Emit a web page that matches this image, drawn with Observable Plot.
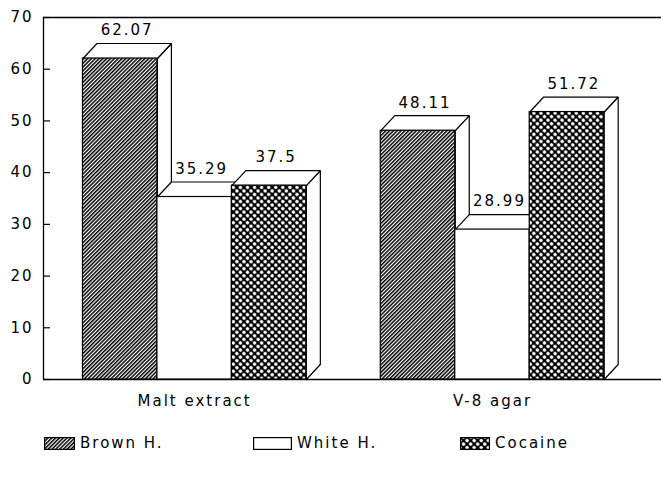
<!DOCTYPE html>
<html><head><meta charset="utf-8">
<script src="https://cdn.jsdelivr.net/npm/d3@7"></script>
<script src="https://cdn.jsdelivr.net/npm/@observablehq/plot@0.6"></script>
<style>
body{margin:0;background:#fff;font-family:"DejaVu Sans",sans-serif;}
#wrap{position:relative;width:661px;height:481px;background:#fff;}
.leg{position:absolute;top:436px;height:14px;display:flex;align-items:center;font-size:15px;letter-spacing:2px;color:#000;white-space:nowrap;}
.leg svg{display:block;margin-right:5px;}
</style></head><body><div id="wrap"></div>
<script>
// ---- data ----
const groups = ["Malt extract", "V-8 agar"];
const series = ["Brown H.", "White H.", "Cocaine"];
const brownH = [62.07, 48.11];
const whiteH = [35.29, 28.99];
const cocaine = [37.5, 51.72];
const yTicks = [0, 10, 20, 30, 40, 50, 60, 70];

// ---- layout ----
const W = 661, H = 420, mL = 43, mR = 0, mT = 17, mB = 41;
const xMax = 8.3, firstOffset = 0.53, groupStride = 4;
const pxX = (W - mL - mR) / xMax, pxY = (H - mT - mB) / 70;
const dX = 14 / pxX, dY = 15 / pxY;

const valuesBySeries = [brownH, whiteH, cocaine];
const bars = [];
groups.forEach((g, gi) => series.forEach((s, si) => {
  const x0 = firstOffset + gi * groupStride + si;
  bars.push({group: g, series: s, value: valuesBySeries[si][gi], x0, x1: x0 + 1});
}));
const centers = groups.map((g, gi) => firstOffset + gi * groupStride + 1.5);

// 3D faces (side + top) of each bar, drawn left to right
const faces = [];
bars.forEach((b, i) => {
  const side = [[b.x1, 0], [b.x1 + dX, dY], [b.x1 + dX, b.value + dY], [b.x1, b.value], [b.x1, 0]];
  const top = [[b.x0, b.value], [b.x1, b.value], [b.x1 + dX, b.value + dY], [b.x0 + dX, b.value + dY], [b.x0, b.value]];
  side.forEach(([x, y]) => faces.push({id: "s" + i, x, y}));
  top.forEach(([x, y]) => faces.push({id: "t" + i, x, y}));
});

const chart = Plot.plot({
  width: W, height: H,
  marginLeft: mL, marginRight: mR, marginTop: mT, marginBottom: mB,
  style: {fontFamily: "DejaVu Sans, sans-serif", fontSize: "15px", letterSpacing: "2px", color: "#000", background: "#fff", overflow: "visible"},
  x: {domain: [0, xMax]},
  y: {domain: [0, 70]},
  color: {type: "ordinal", domain: series, range: ["url(#pBrown)", "#fff", "url(#pCoc)"]},
  marks: [
    Plot.ruleY([0, 70], {stroke: "#000", strokeWidth: 1.3}),
    Plot.ruleX([0], {stroke: "#000", strokeWidth: 1.3}),
    Plot.ruleY(yTicks, {x1: 0, x2: 7 / pxX, stroke: "#000", strokeWidth: 1.2}),
    Plot.line(faces, {x: "x", y: "y", z: "id", fill: "#fff", stroke: "#000", strokeWidth: 1.2, strokeLinejoin: "miter", curve: "linear"}),
    Plot.rect(bars, {x1: "x0", x2: "x1", y1: 0, y2: "value", fill: "series", stroke: "#000", strokeWidth: 1.2}),
    Plot.text(bars, {x: d => (d.x0 + d.x1) / 2 + dX / 2, y: d => d.value + dY, text: d => String(d.value), dy: -13, fill: "#000"}),
    Plot.axisY(yTicks, {anchor: "left", tickSize: 0, tickPadding: 10, label: null, tickFormat: d => String(d)}),
    Plot.axisX(centers, {anchor: "bottom", tickSize: 0, tickPadding: 16, label: null, tickFormat: d => groups[centers.indexOf(d)]})
  ]
});

const svg = d3.select(chart);
const defs = svg.insert("defs", ":first-child");
const pb = defs.append("pattern").attr("id", "pBrown").attr("patternUnits", "userSpaceOnUse")
  .attr("width", 2.7).attr("height", 2.7).attr("patternTransform", "rotate(-45)");
pb.append("rect").attr("width", 2.7).attr("height", 2.7).attr("fill", "#fff");
pb.append("rect").attr("width", 2.7).attr("height", 1.5).attr("fill", "#000");
const pc = defs.append("pattern").attr("id", "pCoc").attr("patternUnits", "userSpaceOnUse")
  .attr("width", 5).attr("height", 5).attr("patternTransform", "rotate(45)");
pc.append("rect").attr("width", 5).attr("height", 5).attr("fill", "#000");
pc.append("circle").attr("cx", 2.5).attr("cy", 2.5).attr("r", 1.8).attr("fill", "#fff");

const wrap = document.getElementById("wrap");
wrap.appendChild(chart);

// ---- legend ----
const legFills = ["url(#pBrown)", "#fff", "url(#pCoc)"];
const legLeft = [44, 253, 460];
const legW = [31, 39, 30];
series.forEach((s, i) => {
  const item = document.createElement("div");
  item.className = "leg";
  item.style.left = legLeft[i] + "px";
  const sw = d3.create("svg").attr("width", legW[i]).attr("height", 13);
  sw.append("rect").attr("x", 0.6).attr("y", 0.6).attr("width", legW[i] - 1.2).attr("height", 11.8)
    .attr("fill", legFills[i]).attr("stroke", "#000").attr("stroke-width", 1.2);
  item.appendChild(sw.node());
  const t = document.createElement("span");
  t.textContent = s;
  item.appendChild(t);
  wrap.appendChild(item);
});
</script></body></html>
